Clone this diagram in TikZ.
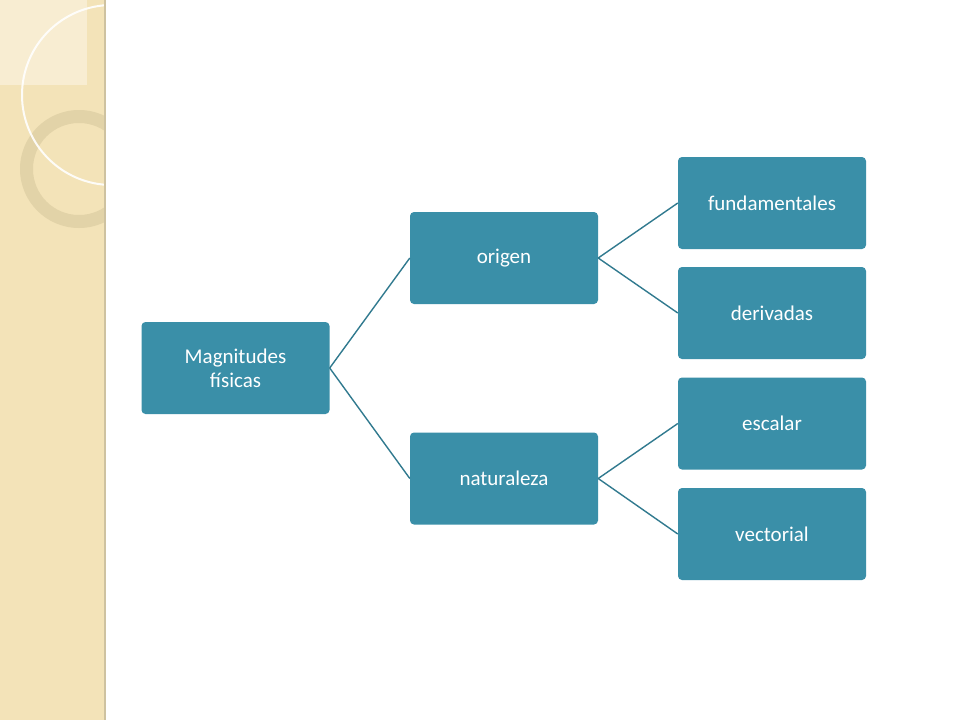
\documentclass[tikz,border=0pt]{standalone}
\usepackage{fontspec}
\setmainfont{Carlito}
\definecolor{boxc}{HTML}{3A8FA8}
\definecolor{beige}{HTML}{F3E3B8}
\definecolor{beigel}{HTML}{F8EDD2}
\definecolor{ringc}{HTML}{E2D3A8}
\begin{document}
\begin{tikzpicture}[x=1pt,y=-1pt,
  bx/.style={fill=boxc,rounded corners=4pt,minimum width=188pt,minimum height=92pt,text=white,font=\fontsize{21}{24}\selectfont,align=center,inner sep=2pt},
  ln/.style={draw=boxc!85!black,line width=1.4pt}]
\useasboundingbox (0,0) rectangle (960,720);
\fill[white] (0,0) rectangle (960,720);
\begin{scope}
\clip (0,0) rectangle (105,720);
\fill[beige] (0,0) rectangle (105,720);
\begin{scope}
\clip (0,0) rectangle (87,85);
\fill[beigel] (0,0) rectangle (87,85);
\end{scope}
\fill[ringc,even odd rule] (79,169) circle (59) (79,169) circle (46);
\draw[white,line width=2pt,opacity=0.9] (112,95) circle (90);
\end{scope}
\draw[ringc!80!gray,line width=1.5pt] (105,0) -- (105,720);
\node[bx] (m) at (235.5,368) {Magnitudes\\físicas};
\node[bx] (o) at (504,258) {origen};
\node[bx] (n) at (504,478.5) {naturaleza};
\node[bx] (f) at (772,203) {fundamentales};
\node[bx] (d) at (772,313) {derivadas};
\node[bx] (e) at (772,423.5) {escalar};
\node[bx] (v) at (772,534) {vectorial};
\draw[ln] (m.east) -- (o.west);
\draw[ln] (m.east) -- (n.west);
\draw[ln] (o.east) -- (f.west);
\draw[ln] (o.east) -- (d.west);
\draw[ln] (n.east) -- (e.west);
\draw[ln] (n.east) -- (v.west);
\end{tikzpicture}
\end{document}
